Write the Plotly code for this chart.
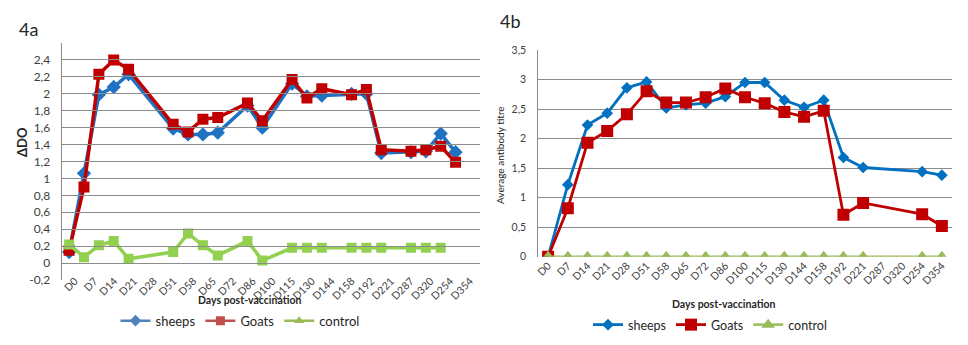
import plotly.graph_objects as go

# ---------------- data ----------------
day_labels = ["D0", "D7", "D14", "D21", "D28", "D51", "D58", "D65", "D72", "D86",
              "D100", "D115", "D130", "D144", "D158", "D192", "D221", "D287",
              "D320", "D254", "D354"]

# 4a : sampling slots (as drawn on the original chart) and ΔDO values
slots_a = [0, 1, 2, 3, 4, 7, 8, 9, 10, 12, 13, 15, 16, 17, 19, 20, 21, 23, 24, 25, 26]
sheeps_a = [0.13, 1.06, 1.99, 2.08, 2.23, 1.59, 1.52, 1.52, 1.54, 1.86, 1.60,
            2.12, 1.97, 1.98, 2.00, 2.00, 1.30, 1.31, 1.32, 1.53, 1.31]
goats_a = [0.15, 0.90, 2.23, 2.40, 2.29, 1.64, 1.55, 1.70, 1.72, 1.89, 1.68,
           2.17, 1.95, 2.06, 1.99, 2.05, 1.34, 1.32, 1.34, 1.38, 1.19]
control_a = [0.22, 0.07, 0.21, 0.26, 0.05, 0.13, 0.35, 0.21, 0.09, 0.26, 0.03,
             0.18, 0.18, 0.18, 0.18, 0.18, 0.18, 0.18, 0.18, 0.18, None]
y_ticks_a = [-0.2, 0, 0.2, 0.4, 0.6, 0.8, 1, 1.2, 1.4, 1.6, 1.8, 2, 2.2, 2.4, 2.6]
y_ticktext_a = ["-0,2", "0", "0,2", "0,4", "0,6", "0,8", "1", "1,2", "1,4", "1,6",
                "1,8", "2", "2,2", "2,4", ""]

# 4b : average antibody titre per day
sheeps_b = [0.0, 1.22, 2.23, 2.43, 2.86, 2.96, 2.52, 2.57, 2.60, 2.71, 2.95,
            2.95, 2.65, 2.53, 2.65, 1.68, 1.51, None, None, 1.44, 1.38]
goats_b = [0.0, 0.82, 1.93, 2.13, 2.41, 2.80, 2.61, 2.61, 2.70, 2.85, 2.70,
           2.60, 2.45, 2.37, 2.47, 0.71, 0.91, None, None, 0.72, 0.52]
control_b = [0, 0, 0, 0, 0, 0, 0, 0, 0, 0, 0, 0, 0, 0, 0, 0, 0, None, None, 0, 0]
y_ticks_b = [0, 0.5, 1, 1.5, 2, 2.5, 3, 3.5]
y_ticktext_b = ["0", "0,5", "1", "1,5", "2", "2,5", "3", "3,5"]

series_names = ["sheeps", "Goats", "control"]

FONT = "Lato"
W, H = 968, 345

fig = go.Figure()

# label axis carrier for 4a (drawn first, underneath)
fig.add_trace(go.Scatter(x=day_labels, y=[None] * len(day_labels), mode="markers",
                         xaxis="x3", yaxis="y", showlegend=False, hoverinfo="skip"))

# ---- 4a traces ----
col_a = ["#1F72C2", "#C00000", "#92D050"]
sym_a = ["diamond", "square", "square"]
for name, ys, c, s, sz in zip(series_names, [sheeps_a, goats_a, control_a], col_a, sym_a, [11, 11, 10]):
    fig.add_trace(go.Scatter(x=slots_a, y=ys, mode="lines+markers", name=name,
                             line=dict(color=c, width=3.5), connectgaps=True,
                             marker=dict(symbol=s, size=sz, color=c),
                             xaxis="x", yaxis="y", showlegend=False))
# 4a legend entries (Office default colours on the original legend)
leg_col_a = ["#4F81BD", "#C0504D", "#9BBB59"]
for name, c, s in zip(series_names, leg_col_a, ["diamond", "square", "triangle-up"]):
    fig.add_trace(go.Scatter(x=[None], y=[None], mode="lines+markers", name=name,
                             line=dict(color=c, width=2.5),
                             marker=dict(symbol=s, size=9, color=c),
                             xaxis="x", yaxis="y", legend="legend"))

# ---- 4b traces ----
col_b = ["#0070C0", "#C00000", "#9BBB59"]
sym_b = ["diamond", "square", "triangle-up"]
size_b = [9, 12, 12]
width_b = [2.8, 2.8, 2.5]
for name, ys, c, s, sz, w in zip(series_names, [sheeps_b, goats_b, control_b], col_b, sym_b, size_b, width_b):
    fig.add_trace(go.Scatter(x=day_labels, y=ys, mode="lines+markers", name=name,
                             line=dict(color=c, width=w), connectgaps=True,
                             marker=dict(symbol=s, size=sz, color=c),
                             xaxis="x2", yaxis="y2", legend="legend2"))

grid = "#8C8C8C"
tickfont = dict(family=FONT, size=10.5, color="#404040")

na = len(day_labels)
fig.update_layout(
    width=W, height=H, margin=dict(l=0, r=0, t=0, b=0, autoexpand=False),
    paper_bgcolor="white", plot_bgcolor="rgba(0,0,0,0)",
    font=dict(family=FONT, color="#262626"),
    xaxis=dict(domain=[61.7 / W, 463 / W], range=[-0.5, 26.5], showgrid=False,
               showticklabels=False, zeroline=False, showline=False, ticks="",
               automargin=False),
    xaxis3=dict(domain=[65 / W, 480 / W], type="category", categoryorder="array",
                categoryarray=day_labels, range=[-0.5, na - 0.5],
                anchor="free", position=1 - 272 / H,
                showgrid=False, zeroline=False, showline=False, ticks="",
                tickangle=-45, tickfont=tickfont, automargin=False),
    yaxis=dict(domain=[1 - 280 / H, 1 - 43 / H], range=[-0.2, 2.6],
               tickvals=y_ticks_a, ticktext=y_ticktext_a, showgrid=True,
               gridcolor=grid, gridwidth=1, zeroline=False, showline=True,
               linecolor=grid, linewidth=1, ticks="", ticklabelstandoff=8,
               tickfont=dict(family=FONT, size=12, color="#404040"),
               automargin=False),
    xaxis2=dict(domain=[538.3 / W, 951.7 / W], type="category", categoryorder="array",
                categoryarray=day_labels, range=[-0.5, na - 0.5], anchor="y2",
                showgrid=False, zeroline=False, showline=False, ticks="",
                tickangle=-45, tickfont=tickfont, automargin=False),
    yaxis2=dict(domain=[1 - 256.7 / H, 1 - 50 / H], range=[0, 3.5], anchor="x2",
                tickvals=y_ticks_b, ticktext=y_ticktext_b, showgrid=True,
                gridcolor=grid, gridwidth=1, zeroline=False, showline=True,
                linecolor=grid, linewidth=1, ticks="", ticklabelstandoff=9,
                tickfont=dict(family=FONT, size=10.5, color="#404040"),
                automargin=False),
    legend=dict(orientation="h", x=240 / W, y=1 - 320.7 / H, xanchor="center",
                yanchor="middle", font=dict(family=FONT, size=13, color="#262626"),
                itemwidth=30, bgcolor="rgba(0,0,0,0)"),
    legend2=dict(orientation="h", x=710 / W, y=1 - 325 / H, xanchor="center",
                 yanchor="middle", font=dict(family=FONT, size=12.5, color="#262626"),
                 itemwidth=30, bgcolor="rgba(0,0,0,0)"),
    annotations=[
        dict(text="4a", x=17 / W, y=1 - 29 / H, xref="paper", yref="paper",
             xanchor="left", yanchor="middle", showarrow=False,
             font=dict(family=FONT, size=18, color="#262626")),
        dict(text="4b", x=498 / W, y=1 - 21 / H, xref="paper", yref="paper",
             xanchor="left", yanchor="middle", showarrow=False,
             font=dict(family=FONT, size=18, color="#262626")),
        dict(text="<b>ΔDO</b>", x=22 / W, y=1 - 142 / H, xref="paper", yref="paper",
             xanchor="center", yanchor="middle", showarrow=False, textangle=-90,
             font=dict(family=FONT, size=13, color="#262626")),
        dict(text="Average antibody titre", x=500 / W, y=1 - 155 / H, xref="paper",
             yref="paper", xanchor="center", yanchor="middle", showarrow=False,
             textangle=-90, font=dict(family=FONT, size=10, color="#262626")),
        dict(text="<b>Days post-vaccination</b>", x=250 / W, y=1 - 300 / H,
             xref="paper", yref="paper", xanchor="center", yanchor="middle",
             showarrow=False, font=dict(family=FONT, size=10.5, color="#262626")),
        dict(text="<b>Days post-vaccination</b>", x=723 / W, y=1 - 304 / H,
             xref="paper", yref="paper", xanchor="center", yanchor="middle",
             showarrow=False, font=dict(family=FONT, size=10.5, color="#262626")),
    ],
)

fig.write_html("out.html", config={"displayModeBar": False},
               post_script="document.body.style.margin='0px';")
